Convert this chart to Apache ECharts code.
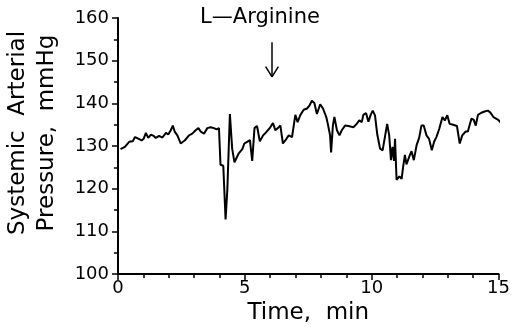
<!DOCTYPE html>
<html>
<head>
<meta charset="utf-8">
<script src="https://cdn.jsdelivr.net/npm/echarts@6/dist/echarts.min.js"></script>
<style>
  html, body { margin: 0; padding: 0; background: #fff; }
  #chart { width: 513px; height: 330px; }
</style>
</head>
<body>
<div id="chart"></div>
<script>
// time (min) and systemic arterial pressure (mmHg)
const timeMin = [
  0.10, 0.27, 0.44, 0.58, 0.67, 0.84, 0.93, 1.01, 1.10, 1.19,
  1.30, 1.40, 1.49, 1.62, 1.75, 1.89, 1.98, 2.08, 2.16, 2.24,
  2.34, 2.47, 2.63, 2.80, 2.93, 3.06, 3.17, 3.26, 3.39, 3.52,
  3.65, 3.78, 3.89, 3.98, 4.04, 4.15, 4.24, 4.31, 4.41, 4.50,
  4.59, 4.76, 4.90, 4.98, 5.09, 5.20, 5.29, 5.38, 5.48, 5.59,
  5.72, 5.85, 5.98, 6.11, 6.20, 6.30, 6.40, 6.50, 6.64, 6.73,
  6.86, 6.99, 7.08, 7.19, 7.32, 7.45, 7.55, 7.64, 7.74, 7.84,
  7.97, 8.08, 8.21, 8.27, 8.36, 8.40, 8.47, 8.53, 8.63, 8.73,
  8.82, 8.95, 9.08, 9.28, 9.41, 9.51, 9.61, 9.67, 9.78, 9.87,
  9.96, 10.04, 10.13, 10.22, 10.33, 10.43, 10.52, 10.61, 10.69, 10.76,
  10.82, 10.88, 10.92, 10.98, 11.09, 11.18, 11.24, 11.31, 11.37, 11.48,
  11.57, 11.66, 11.77, 11.87, 11.96, 12.05, 12.16, 12.26, 12.37, 12.46,
  12.55, 12.66, 12.79, 12.88, 12.98, 13.07, 13.21, 13.36, 13.47, 13.57,
  13.70, 13.79, 13.93, 14.02, 14.10, 14.19, 14.32, 14.45, 14.58, 14.67,
  14.80, 14.97, 15.06, 15.12
];
const pressure = [
  129.3, 129.8, 131.0, 131.1, 132.1, 131.6, 131.3, 131.7, 133.1, 131.9,
  132.7, 132.4, 131.9, 132.4, 132.0, 133.1, 132.7, 133.7, 134.8, 133.3,
  132.5, 130.6, 131.3, 132.5, 132.9, 133.7, 134.2, 133.4, 132.9, 134.2,
  134.4, 134.2, 133.9, 134.2, 125.6, 125.4, 112.8, 119.8, 137.5, 129.4,
  126.2, 128.3, 129.3, 130.6, 131.0, 131.4, 126.5, 134.2, 134.7, 131.1,
  132.5, 133.3, 134.2, 135.4, 133.7, 134.2, 134.8, 130.6, 131.7, 132.5,
  132.1, 137.3, 135.6, 137.3, 138.5, 138.8, 139.5, 140.6, 140.1, 137.5,
  139.8, 138.8, 136.8, 135.2, 132.5, 128.5, 134.8, 136.8, 133.7, 132.5,
  133.7, 134.8, 134.7, 134.4, 135.2, 136.0, 135.6, 137.3, 137.7, 135.7,
  137.3, 138.3, 137.2, 132.7, 129.4, 129.0, 132.1, 135.2, 132.5, 126.7,
  129.8, 126.5, 131.7, 122.1, 122.9, 122.3, 125.2, 127.9, 125.7, 127.5,
  128.8, 126.7, 130.2, 131.9, 134.8, 134.8, 132.5, 131.7, 129.0, 131.0,
  132.1, 134.0, 136.8, 136.0, 137.2, 135.2, 135.0, 134.7, 130.6, 132.5,
  133.4, 133.4, 136.4, 136.2, 134.8, 137.3, 137.8, 138.1, 138.3, 137.9,
  136.8, 136.2, 135.7, 135.0
];

// L-Arginine injection arrow (data coordinates)
const arrowTime = 6.07;
const arrowTop = 154.3;
const arrowTip = 146.2;
const arrowHeadBase = 148.6;
const arrowHeadHalf = 0.25;

const xTicks = [0, 5, 10, 15];
const yTicks = [100, 110, 120, 130, 140, 150, 160];

const font = 'DejaVu Sans';

const chart = echarts.init(document.getElementById('chart'), null, { renderer: 'canvas' });

const points = timeMin.map((t, i) => [t, pressure[i]]);

const arrowLines = [
  [{ coord: [arrowTime, arrowTop] }, { coord: [arrowTime, arrowTip] }],
  [{ coord: [arrowTime - arrowHeadHalf, arrowHeadBase] }, { coord: [arrowTime, arrowTip] }],
  [{ coord: [arrowTime + arrowHeadHalf, arrowHeadBase] }, { coord: [arrowTime, arrowTip] }]
];

const option = {
  backgroundColor: '#fff',
  animation: false,
  grid: {
    left: 118,
    right: 13,
    top: 18,
    bottom: 53
  },
  xAxis: {
    type: 'value',
    min: xTicks[0],
    max: xTicks[xTicks.length - 1],
    interval: 5,
    name: 'Time,  min',
    nameLocation: 'middle',
    nameGap: 24,
    nameTextStyle: { color: '#000', fontFamily: font, fontSize: 23 },
    axisLine: { show: true, onZero: false, lineStyle: { color: '#000', width: 2 } },
    axisTick: { show: true, length: 6, lineStyle: { color: '#000', width: 1.5 } },
    minorTick: { show: true, splitNumber: 5, length: 4, lineStyle: { color: '#000', width: 1.5 } },
    axisLabel: { color: '#000', fontFamily: font, fontSize: 18, margin: 5 },
    splitLine: { show: false }
  },
  yAxis: {
    type: 'value',
    min: yTicks[0],
    max: yTicks[yTicks.length - 1],
    interval: 10,
    axisLine: { show: true, onZero: false, lineStyle: { color: '#000', width: 2 } },
    axisTick: { show: true, length: 6, lineStyle: { color: '#000', width: 1.5 } },
    minorTick: { show: true, splitNumber: 2, length: 4, lineStyle: { color: '#000', width: 1.5 } },
    axisLabel: { color: '#000', fontFamily: font, fontSize: 18, margin: 9 },
    splitLine: { show: false }
  },
  graphic: [
    {
      type: 'text',
      x: 18,
      y: 133,
      rotation: Math.PI / 2,
      style: {
        text: 'Systemic  Arterial',
        fill: '#000',
        font: '23px "DejaVu Sans"',
        textAlign: 'center',
        textVerticalAlign: 'middle'
      }
    },
    {
      type: 'text',
      x: 47,
      y: 133,
      rotation: Math.PI / 2,
      style: {
        text: 'Pressure,  mmHg',
        fill: '#000',
        font: '23px "DejaVu Sans"',
        textAlign: 'center',
        textVerticalAlign: 'middle'
      }
    },
    {
      type: 'text',
      x: 260,
      y: 18,
      style: {
        text: 'L\u2014Arginine',
        fill: '#000',
        font: '21px "DejaVu Sans"',
        textAlign: 'center',
        textVerticalAlign: 'middle'
      }
    }
  ],
  series: [
    {
      type: 'line',
      data: points,
      showSymbol: false,
      clip: false,
      lineStyle: { color: '#000', width: 2 },
      silent: true,
      markLine: {
        silent: true,
        symbol: ['none', 'none'],
        label: { show: false },
        lineStyle: { color: '#000', width: 1.5, type: 'solid' },
        data: arrowLines
      }
    }
  ]
};

chart.setOption(option);
window.addEventListener('resize', () => chart.resize());
</script>
</body>
</html>
